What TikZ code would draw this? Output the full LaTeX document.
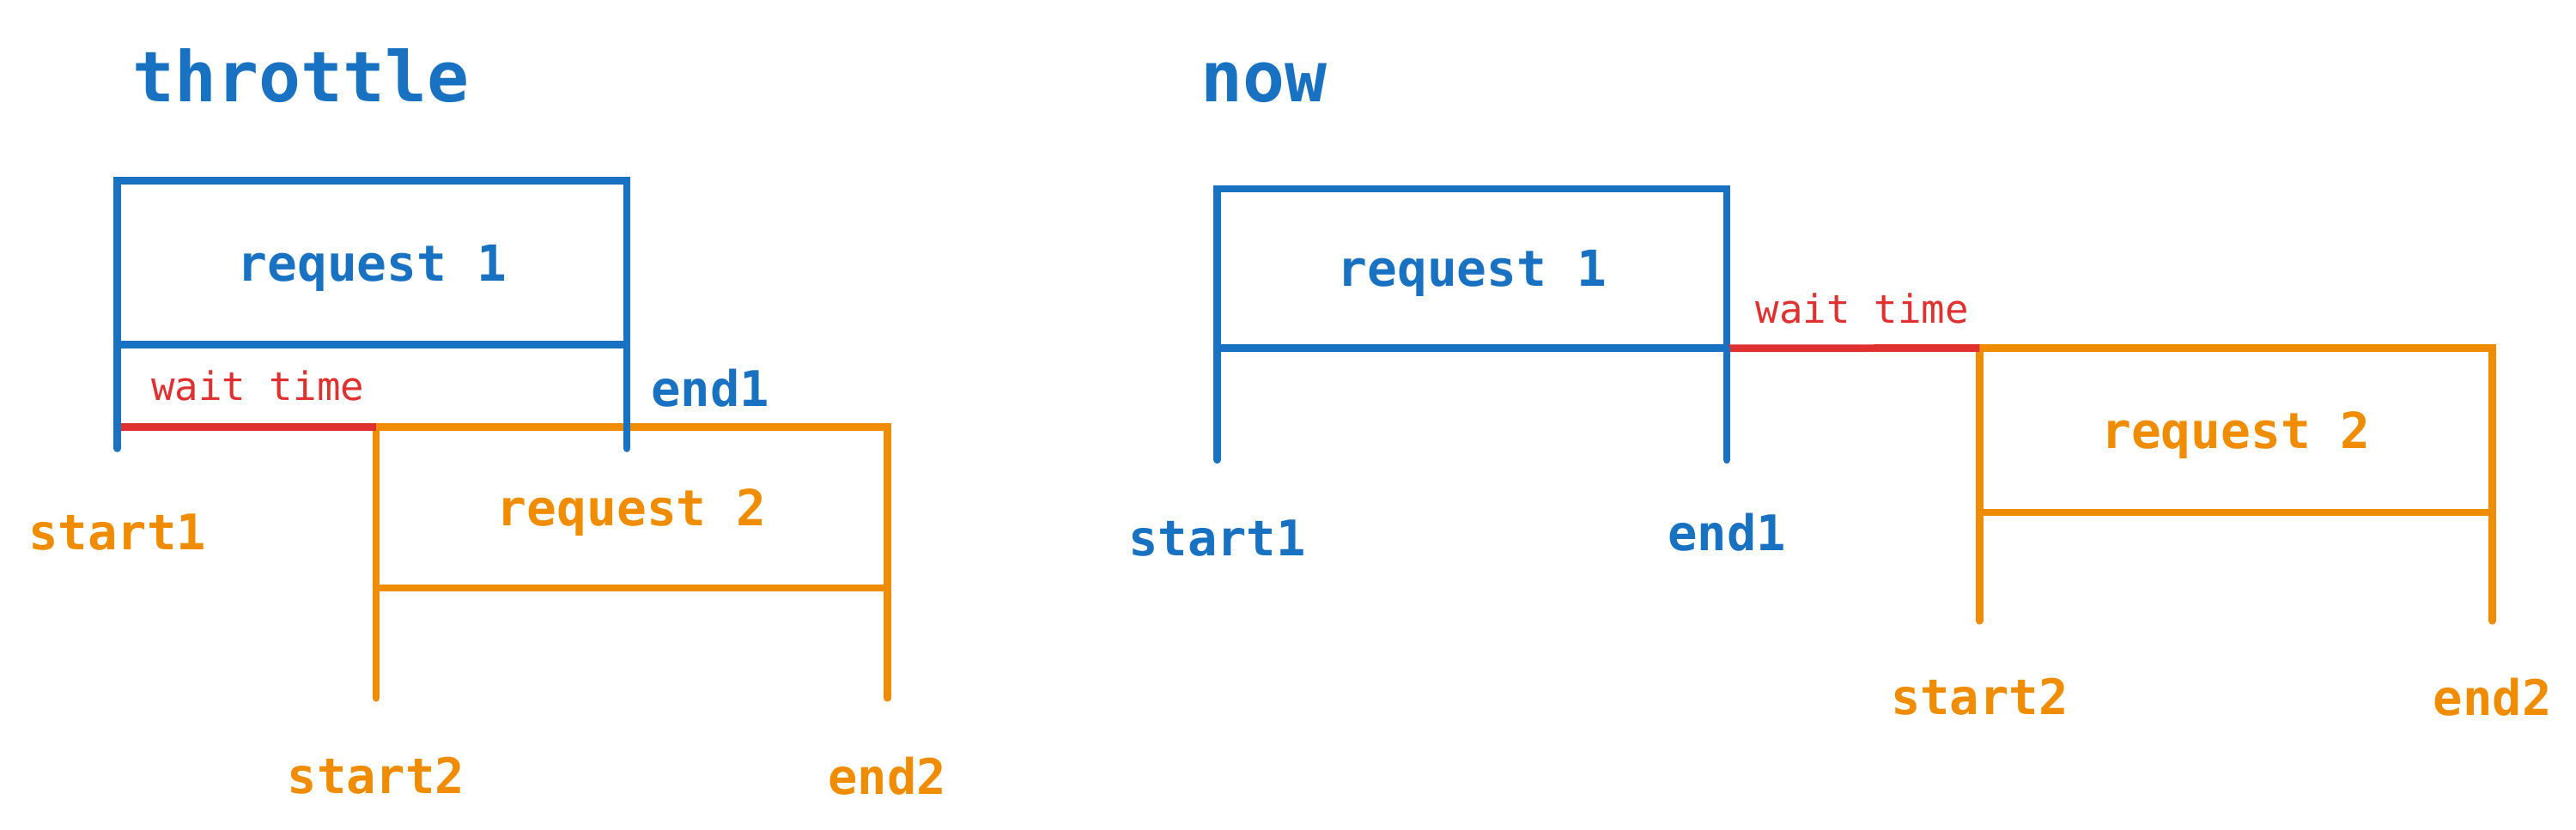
\documentclass[tikz,border=0pt]{standalone}
\usepackage{fontspec}
\setmonofont{DejaVu Sans Mono}
\usepackage{xcolor}
\definecolor{cReq}{HTML}{1971C2}
\definecolor{cNext}{HTML}{F08C00}
\definecolor{cWait}{HTML}{E03131}
\usetikzlibrary{positioning,calc}

\begin{document}
\begin{tikzpicture}[x=0.01cm,y=-0.01cm,
  req/.style={draw,line width=1.3pt,minimum width=3.1cm,minimum height=1cm,
    inner sep=0pt,outer sep=0pt,text depth=0pt,
    font=\ttfamily\bfseries\fontsize{8.6}{10}\selectfont},
  leg/.style={line width=1.3pt,line cap=round},
  tick/.style={inner sep=0pt,font=\ttfamily\bfseries\fontsize{8.5}{10}\selectfont},
  title/.style={anchor=base west,inner sep=0pt,text=cReq,
    font=\ttfamily\bfseries\fontsize{12.1}{14}\selectfont},
  wait/.style={line width=1.3pt,cWait},
  waitlbl/.style={inner sep=0pt,text=cWait,font=\ttfamily\fontsize{6.8}{8}\selectfont}]
\useasboundingbox (0,0) rectangle (1568,505);

% throttle
\node[title] (tThr) at (80,62) {throttle};
\node[req,draw=cReq,text=cReq] (aReq1) at (226.5,160) {request 1};
\node[req,draw=cNext,text=cNext,minimum width=3.11cm,minimum height=0.98cm] (aReq2) at (384.5,309) {request 2};
\coordinate (aW) at (aReq1.south west |- aReq2.north west);
\draw[wait] (aW) -- (aReq2.north west);
\node[waitlbl,above right=0.15cm and 0.2cm of aW] (aWait) {wait time};
\coordinate (aS1) at ($(aReq1.south west)+(0,63)$);
\coordinate (aE1) at ($(aReq1.south east)+(0,63)$);
\coordinate (aS2) at ($(aReq2.south west)+(0,67)$);
\coordinate (aE2) at ($(aReq2.south east)+(0,67)$);
\draw[leg,cNext] (aReq2.south west) -- (aS2);
\draw[leg,cNext] (aReq2.south east) -- (aE2);
\draw[leg,cReq] (aReq1.south west) -- (aS1);
\draw[leg,cReq] (aReq1.south east) -- (aE1);
\node[tick,text=cNext,below=0.39cm of aS1] (aStart1) {start1};
\node[tick,text=cReq,below right=0.14cm and 0.14cm of aReq1.south east] (aEnd1) {end1};
\node[tick,text=cNext,below=0.35cm of aS2] (aStart2) {start2};
\node[tick,text=cNext,below=0.35cm of aE2] (aEnd2) {end2};

% now
\node[title] (tNow) at (730,62) {now};
\node[req,draw=cReq,text=cReq,minimum height=0.97cm] (bReq1) at (896,163.5) {request 1};
\node[req,draw=cNext,text=cNext,minimum width=3.12cm] (bReq2) at (1361,262) {request 2};
\draw[wait] (bReq1.south east) -- (bReq2.north west);
\node[waitlbl,above right=0.14cm and 0.17cm of bReq1.south east] (bWait) {wait time};
\coordinate (bS1) at ($(bReq1.south west)+(0,68)$);
\coordinate (bE1) at ($(bReq1.south east)+(0,68)$);
\coordinate (bS2) at ($(bReq2.south west)+(0,66)$);
\coordinate (bE2) at ($(bReq2.south east)+(0,66)$);
\draw[leg,cReq] (bReq1.south west) -- (bS1);
\draw[leg,cReq] (bReq1.south east) -- (bE1);
\draw[leg,cNext] (bReq2.south west) -- (bS2);
\draw[leg,cNext] (bReq2.south east) -- (bE2);
\node[tick,text=cReq,below=0.36cm of bS1] (bStart1) {start1};
\node[tick,text=cReq,below=0.32cm of bE1] (bEnd1) {end1};
\node[tick,text=cNext,below=0.34cm of bS2] (bStart2) {start2};
\node[tick,text=cNext,below=0.34cm of bE2] (bEnd2) {end2};
\end{tikzpicture}
\end{document}
